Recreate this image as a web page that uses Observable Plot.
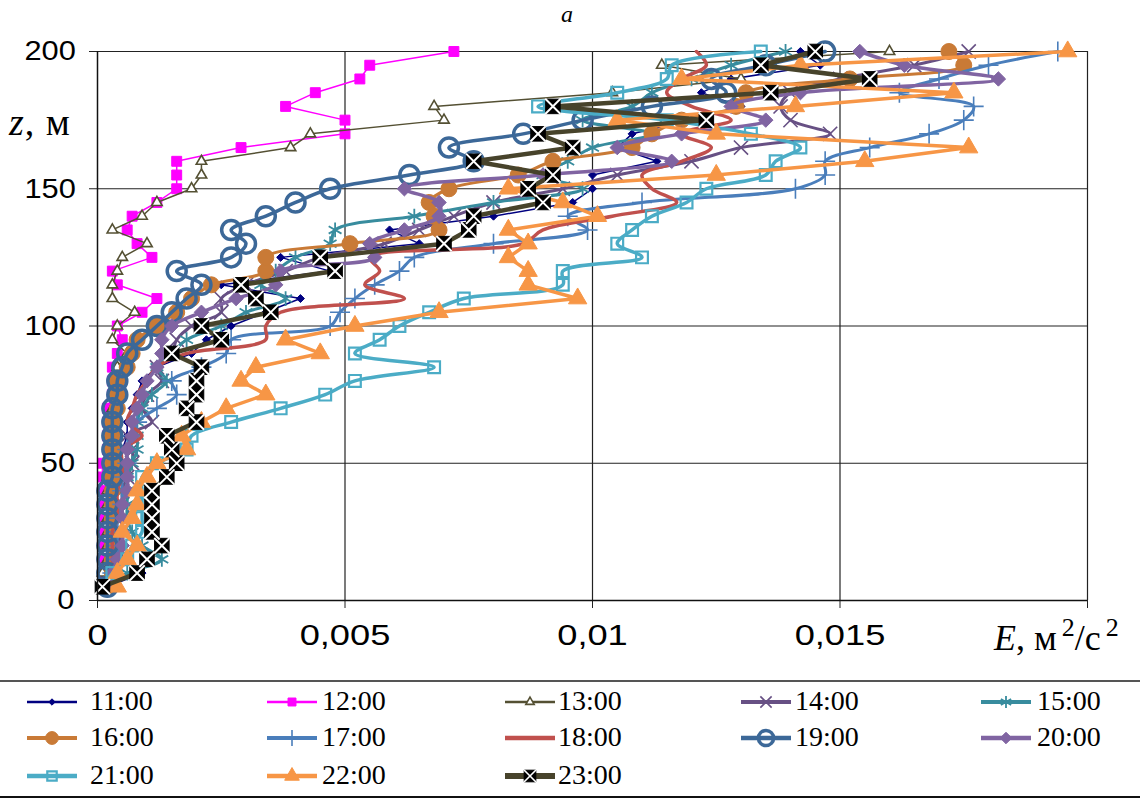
<!DOCTYPE html>
<html><head><meta charset="utf-8">
<script src="https://cdn.jsdelivr.net/npm/d3@7"></script>
<script src="https://cdn.jsdelivr.net/npm/@observablehq/plot@0.6"></script>
<style>
body{margin:0;background:#fff;}
#page{position:relative;width:1140px;height:798px;overflow:hidden;background:#fff;}
#chart{position:absolute;left:0;top:0;}
.leg{position:absolute;font-family:"Liberation Serif","Times New Roman",serif;font-size:28px;line-height:1;color:#000;white-space:nowrap;}
.sw{position:absolute;}
.hline{position:absolute;left:0;width:1140px;}
</style></head><body>
<div id="page"><div id="chart"></div></div>
<script>
// heights z, m (bottom to top)
const heights = [5,10,15,20,25,30,35,40,45,50,55,60,65,70,75,80,85,90,95,100,105,110,115,120,125,130,135,140,145,150,155,160,165,170,175,180,185,190,195,200];

// E, m2/s2 for each hour, same order as heights
const e11 = [0.0002,0.0009,0.0005,0.0004,0.0004,0.0004,0.0004,0.0004,0.0005,0.0005,0.0005,0.0006,0.0006,0.0007,0.0008,0.0009,0.0012,0.0019,0.0022,0.0027,0.0034,0.0041,0.0025,0.0047,0.0037,0.0065,0.0059,0.0080,0.0096,0.0100,0.0100,0.0113,0.0105,0.0108,0.0120,0.0130,0.0122,0.0128,0.0146,0.0142];
const e12 = [0.0001,0.0001,0.0001,0.0001,0.0001,0.0001,0.0001,0.0001,0.0001,0.0001,0.0002,0.0002,0.0002,0.0002,0.0003,0.0003,0.0003,0.0004,0.0005,0.0004,0.0009,0.0012,0.0004,0.0003,0.0011,0.0008,0.0006,0.0007,0.0012,0.0016,0.0016,0.0016,0.0029,0.0050,0.0050,0.0038,0.0044,0.0053,0.0055,0.0072];
const e13 = [0.0001,0.0001,0.0002,0.0002,0.0002,0.0002,0.0002,0.0002,0.0002,0.0003,0.0003,0.0003,0.0003,0.0003,0.0004,0.0004,0.0004,0.0006,0.0003,0.0004,0.00075,0.0003,0.0003,0.0004,0.0005,0.0010,0.0003,0.0009,0.0012,0.0019,0.0021,0.0021,0.0039,0.0043,0.0070,0.0068,0.0104,0.0130,0.0114,0.0160];
const e14 = [0.0002,0.0003,0.0004,0.0004,0.0005,0.0005,0.0005,0.0005,0.0006,0.0007,0.0007,0.0006,0.0011,0.0009,0.0010,0.0013,0.0012,0.0015,0.0016,0.0019,0.0025,0.0025,0.0030,0.0038,0.0045,0.0058,0.0065,0.0072,0.0080,0.0094,0.0105,0.0120,0.0130,0.0148,0.0140,0.0138,0.0140,0.0150,0.0165,0.0176];
const e15 = [0.0002,0.0006,0.0013,0.0009,0.0007,0.0006,0.0006,0.0006,0.0006,0.0007,0.0008,0.0008,0.0008,0.0009,0.0011,0.0014,0.0012,0.0015,0.0018,0.0025,0.0030,0.0038,0.0033,0.0036,0.0040,0.0047,0.0048,0.0064,0.0080,0.0098,0.0090,0.0095,0.0100,0.0112,0.0098,0.0108,0.0112,0.0120,0.0128,0.0139];
const e16 = [0.0002,0.0003,0.0003,0.0003,0.0003,0.0003,0.0003,0.0003,0.0003,0.0003,0.0003,0.0003,0.0003,0.0004,0.0004,0.0004,0.0006,0.0007,0.0008,0.0012,0.0016,0.0019,0.0023,0.0034,0.0034,0.0051,0.0069,0.0068,0.0067,0.0071,0.0085,0.0092,0.0108,0.0112,0.0118,0.0129,0.0131,0.0152,0.0175,0.0172];
const e17 = [0.0002,0.0003,0.0004,0.0004,0.0004,0.0004,0.0005,0.0005,0.0005,0.0006,0.0006,0.0007,0.0008,0.0012,0.0016,0.0015,0.0021,0.0026,0.0027,0.0047,0.0049,0.0052,0.0056,0.0061,0.0064,0.0080,0.0099,0.0095,0.0110,0.0141,0.0147,0.0147,0.0156,0.0168,0.0175,0.0177,0.0162,0.0170,0.0180,0.0194];
const e18 = [0.0002,0.0003,0.0003,0.0003,0.0003,0.0004,0.0004,0.0004,0.0005,0.0005,0.0005,0.0009,0.0006,0.0007,0.0008,0.0010,0.0012,0.0018,0.0034,0.0034,0.0037,0.0062,0.0054,0.0057,0.0055,0.0086,0.0090,0.0104,0.0117,0.0112,0.0110,0.0118,0.0124,0.0118,0.0128,0.0120,0.0115,0.0118,0.0123,0.0121];
const e19 = [0.0002,0.0002,0.0002,0.0002,0.0002,0.0002,0.0002,0.0002,0.0003,0.0003,0.0003,0.0003,0.0003,0.0003,0.0004,0.0004,0.0005,0.0006,0.0009,0.0012,0.0015,0.0018,0.0021,0.0016,0.0027,0.0030,0.0027,0.0034,0.0040,0.0047,0.0063,0.0076,0.0071,0.0086,0.0098,0.0112,0.0127,0.0124,0.0135,0.0147];
const e20 = [0.0002,0.0003,0.0004,0.0005,0.0005,0.0005,0.0005,0.0006,0.0006,0.0006,0.0006,0.0007,0.0007,0.0008,0.0009,0.0010,0.0012,0.0013,0.0013,0.0015,0.0021,0.0028,0.0036,0.0037,0.0056,0.0055,0.0062,0.0069,0.0069,0.0062,0.0090,0.0116,0.0105,0.0118,0.0135,0.0128,0.0142,0.0182,0.0163,0.0154];
const e21 = [0.0001,0.0003,0.0006,0.0007,0.0009,0.0009,0.0009,0.0009,0.0009,0.0012,0.0018,0.0019,0.0027,0.0037,0.0046,0.0052,0.0068,0.0052,0.0057,0.0061,0.0067,0.0074,0.0094,0.0094,0.0110,0.0105,0.0108,0.0112,0.0119,0.0123,0.0135,0.0137,0.0142,0.0132,0.0115,0.0089,0.0105,0.0115,0.0116,0.0134];
const e22 = [0.0004,0.0004,0.0006,0.0008,0.0005,0.0007,0.0008,0.0008,0.0010,0.0012,0.0018,0.0017,0.0021,0.0026,0.0034,0.0029,0.0032,0.0045,0.0038,0.0052,0.0069,0.0097,0.0087,0.0087,0.0083,0.0087,0.0083,0.0101,0.0094,0.0083,0.0125,0.0155,0.0176,0.0125,0.0105,0.0141,0.0173,0.0118,0.0142,0.0196];
const e23 = [0.0001,0.0008,0.0010,0.0013,0.0011,0.0011,0.0011,0.0011,0.0014,0.0016,0.0015,0.0014,0.0020,0.0018,0.0020,0.0020,0.0021,0.0015,0.0025,0.0021,0.0035,0.0032,0.0029,0.0048,0.0045,0.0070,0.0075,0.0076,0.0090,0.0087,0.0092,0.0076,0.0096,0.0089,0.0123,0.0092,0.0136,0.0156,0.0134,0.0145];

const seriesNames = ["11:00","12:00","13:00","14:00","15:00","16:00","17:00","18:00","19:00","20:00","21:00","22:00","23:00"];
const seriesValues = [e11,e12,e13,e14,e15,e16,e17,e18,e19,e20,e21,e22,e23];
const xTicks = [0,0.005,0.01,0.015,0.02];
const yTicks = [0,50,100,150,200];

// styles (kept separate from the data)
const styles = {
  "11:00":{color:"#000080",w:1.5,curve:"linear",symbol:"diamond2",r:3.6,fill:"#000080",stroke:"#000080",sw:1},
  "12:00":{color:"#FF00FF",w:1.5,curve:"linear",symbol:"square",r:5.6,fill:"#FF00FF",stroke:"#FF00FF",sw:1},
  "13:00":{color:"#545033",w:1.5,curve:"linear",symbol:"triangle2",r:5,fill:"#fff",stroke:"#545033",sw:1.6},
  "14:00":{color:"#675084",w:3,curve:"catmull-rom",symbol:"times",r:6.5,fill:"none",stroke:"#675084",sw:1.6},
  "15:00":{color:"#388C9E",w:3,curve:"catmull-rom",symbol:"asterisk",r:7,fill:"none",stroke:"#388C9E",sw:1.8},
  "16:00":{color:"#C97A36",w:3,curve:"catmull-rom",symbol:"circle",r:8,fill:"#C97A36",stroke:"#C97A36",sw:1},
  "17:00":{color:"#4A7EBB",w:3,curve:"catmull-rom",symbol:"plus",r:6.5,fill:"none",stroke:"#4A7EBB",sw:1.6},
  "18:00":{color:"#C0504D",w:3.5,curve:"catmull-rom",symbol:null},
  "19:00":{color:"#3C6898",w:3.5,curve:"catmull-rom",symbol:"circle",r:9.5,fill:"none",stroke:"#3C6898",sw:3.5},
  "20:00":{color:"#8064A2",w:3.5,curve:"catmull-rom",symbol:"diamond2",r:6.5,fill:"#8064A2",stroke:"#8064A2",sw:1},
  "21:00":{color:"#4BACC6",w:3.5,curve:"catmull-rom",symbol:"square2",r:7.5,fill:"none",stroke:"#4BACC6",sw:2.2},
  "22:00":{color:"#F79646",w:3.5,curve:"linear",symbol:"triangle",r:6.8,fill:"#F79646",stroke:"#F79646",sw:1},
  "23:00":{color:"#47432B",w:4.5,curve:"linear",symbol:"square",r:8.2,fill:"#000",stroke:"#000",sw:1,cross:true}
};

const rows = seriesNames.flatMap((name,i)=>seriesValues[i].map((e,j)=>({name,e,z:heights[j]})));

const marks = [
  Plot.ruleX(xTicks.slice(1),{stroke:"#222",strokeWidth:1.2}),
  Plot.ruleY(yTicks.slice(1),{stroke:"#222",strokeWidth:1.2}),
  Plot.axisX(xTicks,{tickSize:8,tickPadding:16,fontSize:29,label:null,stroke:"#222",
    tickFormat:d=>d===0.02?"":(d===0?"0":String(d).replace(".",","))}),
  Plot.axisY(yTicks,{tickSize:8,tickPadding:16,fontSize:28,label:null,stroke:"#222"})
];
for (const name of seriesNames){
  const s = styles[name];
  const data = rows.filter(d=>d.name===name);
  marks.push(Plot.line(data,{x:"e",y:"z",stroke:s.color,strokeWidth:s.w,curve:s.curve,strokeLinejoin:"round"}));
  if (s.symbol){
    marks.push(Plot.dot(data,{x:"e",y:"z",symbol:s.symbol,r:s.r,fill:s.fill,stroke:s.stroke,strokeWidth:s.sw}));
    if (s.cross) marks.push(Plot.dot(data,{x:"e",y:"z",symbol:"times",r:7,stroke:"#fff",strokeWidth:2}));
  }
}
marks.push(Plot.ruleX([0],{stroke:"#111",strokeWidth:1.5}));
marks.push(Plot.ruleY([0],{stroke:"#111",strokeWidth:1.5}));

const chart = Plot.plot({
  width:1140,height:675,
  marginLeft:97,marginRight:53,marginTop:51,marginBottom:75,
  x:{domain:[0,0.02]},
  y:{domain:[0,200]},
  style:{fontFamily:"'Liberation Sans',Arial,sans-serif",background:"transparent",overflow:"visible",color:"#000"},
  marks
});
document.getElementById("chart").appendChild(chart);

// widen tick labels horizontally like the reference's glyphs
function widen(sel, s){
  d3.select(chart).selectAll(sel).each(function(){
    const b = this.getBBox();
    const cx = b.x + b.width/2;
    const t = this.getAttribute("transform") || "";
    this.setAttribute("transform", t + ` translate(${cx},0) scale(${s},1) translate(${-cx},0)`);
  });
}
widen('g[aria-label="x-axis tick label"] text', 1.25);
widen('g[aria-label="y-axis tick label"] text', 1.1);

// titles
const svg = d3.select(chart);
const tf = "'Liberation Serif','Times New Roman',serif";
svg.append("text").attr("x",567).attr("y",22).attr("text-anchor","middle")
  .attr("font-family",tf).attr("font-size",24).attr("font-style","italic").text("a");
const zl = svg.append("text").attr("x",9).attr("y",135).attr("text-anchor","start").attr("font-family",tf).attr("font-size",38).attr("letter-spacing",1);
zl.append("tspan").attr("font-style","italic").text("z");
zl.append("tspan").text(", м");
const el = svg.append("text").attr("x",994).attr("y",650).attr("text-anchor","start").attr("font-family",tf).attr("font-size",36);
el.append("tspan").attr("font-style","italic").text("E");
el.append("tspan").text(", м");
el.append("tspan").attr("font-size",26).attr("dy",-14).attr("dx",5).text("2");
el.append("tspan").attr("dy",14).text("/с");
el.append("tspan").attr("font-size",26).attr("dy",-14).attr("dx",5).text("2");

// legend
const page = document.getElementById("page");
const top1 = document.createElement("div");
top1.className="hline"; top1.style.top="680px"; top1.style.borderTop="2px solid #555";
page.appendChild(top1);
const bot = document.createElement("div");
bot.className="hline"; bot.style.top="796px"; bot.style.borderTop="2px solid #111";
page.appendChild(bot);

const colX = [25,265,503,739,979];
const textX = [90,322,558,795,1037];
const rowY = [702,738,776];
const symMap = {diamond2:d3.symbolDiamond2,square:d3.symbolSquare,triangle2:d3.symbolTriangle2,times:d3.symbolTimes,
  asterisk:d3.symbolAsterisk,circle:d3.symbolCircle,plus:d3.symbolPlus,square2:d3.symbolSquare2,triangle:d3.symbolTriangle};
seriesNames.forEach((name,i)=>{
  const s = styles[name];
  const c = i%5, r = Math.floor(i/5);
  const sv = d3.create("svg").attr("width",56).attr("height",30).attr("class","sw")
    .style("left",colX[c]+"px").style("top",(rowY[r]-15)+"px");
  sv.append("line").attr("x1",2).attr("x2",52).attr("y1",15).attr("y2",15)
    .attr("stroke",s.color).attr("stroke-width",Math.max(2.5,s.w*1.3));
  if (s.symbol){
    const rr = s.r*0.8;
    sv.append("path").attr("transform","translate(27,15)")
      .attr("d",d3.symbol(symMap[s.symbol],Math.PI*rr*rr)())
      .attr("fill",s.fill).attr("stroke",s.stroke).attr("stroke-width",s.sw);
    if (s.cross) sv.append("path").attr("transform","translate(27,15)")
      .attr("d",d3.symbol(d3.symbolTimes,Math.PI*30)()).attr("fill","none").attr("stroke","#fff").attr("stroke-width",1.6);
  }
  page.appendChild(sv.node());
  const t = document.createElement("div");
  t.className="leg"; t.textContent=name;
  t.style.left=textX[c]+"px"; t.style.top=(rowY[r]-15)+"px";
  page.appendChild(t);
});
</script>
</body></html>
